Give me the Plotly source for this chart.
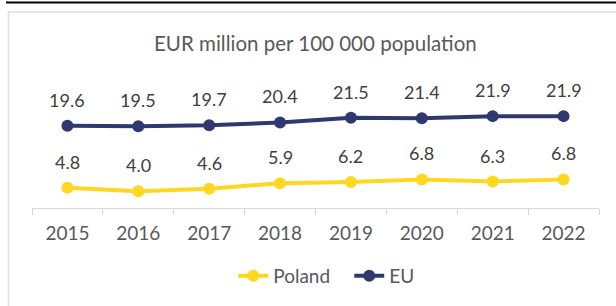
import plotly.graph_objects as go

years = ["2015", "2016", "2017", "2018", "2019", "2020", "2021", "2022"]
poland = [4.8, 4.0, 4.6, 5.9, 6.2, 6.8, 6.3, 6.8]
eu = [19.6, 19.5, 19.7, 20.4, 21.5, 21.4, 21.9, 21.9]
title_text = "EUR million per 100 000 population"

POL_C = "#FFD620"
EU_C = "#303870"
TXT = "#404040"
FONT = "Lato"

fig = go.Figure()
fig.add_trace(go.Scatter(x=years, y=poland, name="Poland", mode="lines+markers",
                         line=dict(color=POL_C, width=4), marker=dict(size=12, color=POL_C)))
fig.add_trace(go.Scatter(x=years, y=eu, name="EU", mode="lines+markers",
                         line=dict(color=EU_C, width=4), marker=dict(size=12, color=EU_C)))

for series in (poland, eu):
    for i, v in enumerate(series):
        fig.add_annotation(x=i, y=v, xref="x", yref="y", text="%.1f" % v, showarrow=False, yshift=26,
                           font=dict(family=FONT, size=18, color=TXT))

W, H = 616, 306
L, R, T, B = 32, 17, 109, 98
pw, ph = W - L - R, H - T - B

def px_x(p):
    return (p - L) / pw

def px_y(p):
    return (H - B - p) / ph

shapes = [
    dict(type="line", xref="paper", yref="paper", x0=px_x(6), x1=px_x(W + 2), y0=px_y(2.5), y1=px_y(2.5),
         line=dict(color="#000000", width=2)),
    dict(type="rect", xref="paper", yref="paper", x0=px_x(8.5), x1=px_x(W + 5), y0=px_y(12), y1=px_y(H + 5),
         line=dict(color="#DEDEDE", width=1.5)),
]

fig.update_layout(
    width=W, height=H,
    margin=dict(l=L, r=R, t=T, b=B, autoexpand=False),
    paper_bgcolor="white", plot_bgcolor="white",
    font=dict(family=FONT, color=TXT),
    title=dict(text=title_text, x=0.512, xanchor="center", y=1 - 44 / H, yanchor="middle",
               font=dict(family=FONT, size=20.5, color="#595959")),
    xaxis=dict(type="category", showgrid=False, showline=True, linecolor="#D9D9D9", linewidth=1,
               ticks="outside", tickson="boundaries", ticklen=6, tickcolor="#D9D9D9",
               tickfont=dict(family=FONT, size=19, color="#595959"), range=[-0.5, 7.5],
               ticklabelstandoff=8, automargin=False),
    yaxis=dict(range=[0, 23.6], showticklabels=False, showline=False, ticks="", showgrid=False,
               zeroline=False, automargin=False),
    legend=dict(orientation="h", x=0.5595, xanchor="center", yref="container", y=1 - 276 / H, yanchor="middle",
                font=dict(family=FONT, size=19, color="#595959"), entrywidth=71, entrywidthmode="pixels"),
    shapes=shapes,
    showlegend=True,
)

fig.write_html("out.html", config={"displayModeBar": False},
               post_script="document.body.style.margin='0';")
